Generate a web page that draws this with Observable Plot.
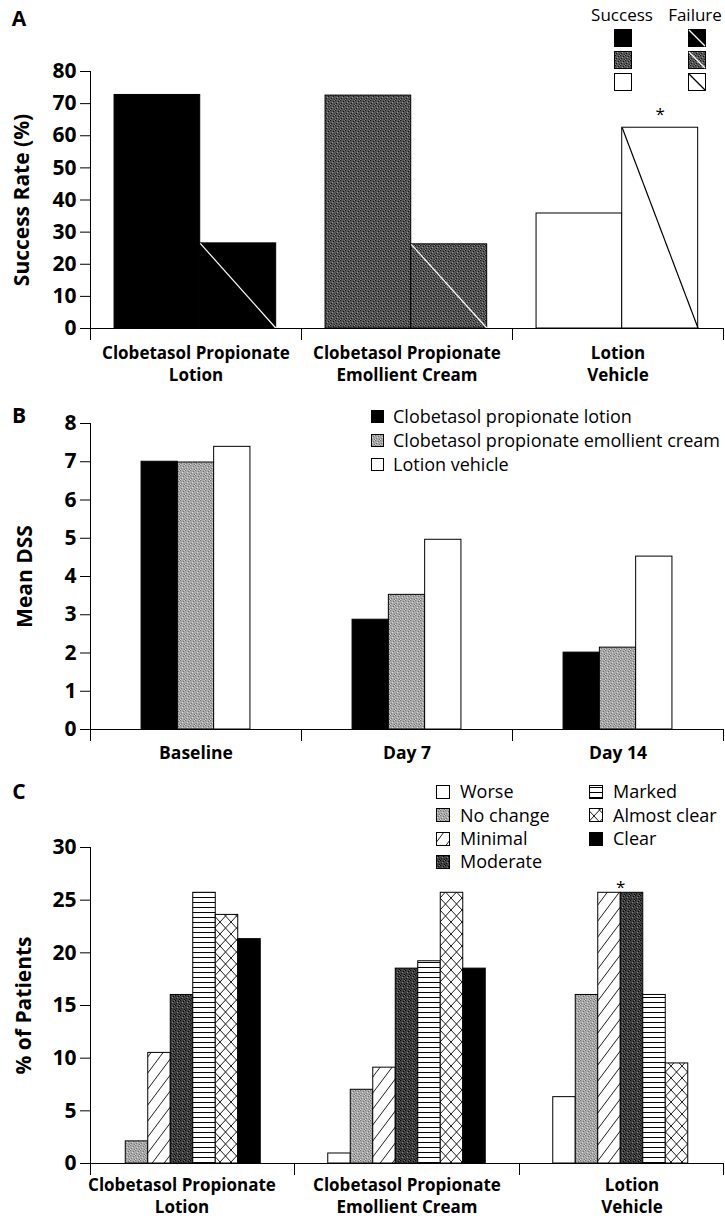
<!DOCTYPE html>
<html><head><meta charset="utf-8">
<script src="https://cdn.jsdelivr.net/npm/d3@7"></script>
<script src="https://cdn.jsdelivr.net/npm/@observablehq/plot@0.6"></script>
<style>
body{margin:0;background:#fff;}
#fig{position:relative;width:725px;height:1219px;overflow:hidden;font-family:"Open Sans",sans-serif;color:#000;}
</style></head><body>
<svg width="0" height="0" style="position:absolute">
<defs>
 <pattern id="dk" width="5" height="5" patternUnits="userSpaceOnUse">
  <rect width="5" height="5" fill="#555"/>
  <rect x="0" y="0" width="1" height="1" fill="#111"/>
  <rect x="3" y="1" width="1" height="1" fill="#111"/>
  <rect x="1" y="3" width="1" height="1" fill="#111"/>
  <rect x="4" y="4" width="1" height="1" fill="#222"/>
  <rect x="2" y="2" width="1" height="1" fill="#999"/>
  <rect x="4" y="0" width="1" height="1" fill="#888"/>
  <rect x="0" y="4" width="1" height="1" fill="#888"/>
 </pattern>
 <pattern id="mod" width="5" height="5" patternUnits="userSpaceOnUse">
  <rect width="5" height="5" fill="#404040"/>
  <rect x="0" y="0" width="1" height="1" fill="#000"/>
  <rect x="3" y="1" width="1" height="1" fill="#000"/>
  <rect x="1" y="3" width="1" height="1" fill="#111"/>
  <rect x="4" y="4" width="1" height="1" fill="#000"/>
  <rect x="2" y="2" width="1" height="1" fill="#888"/>
  <rect x="4" y="0" width="1" height="1" fill="#777"/>
 </pattern>
 <pattern id="lt" width="5" height="5" patternUnits="userSpaceOnUse">
  <rect width="5" height="5" fill="#a8a8a8"/>
  <rect x="0" y="0" width="1" height="1" fill="#707070"/>
  <rect x="3" y="1" width="1" height="1" fill="#707070"/>
  <rect x="1" y="3" width="1" height="1" fill="#777"/>
  <rect x="4" y="4" width="1" height="1" fill="#6a6a6a"/>
  <rect x="2" y="2" width="1" height="1" fill="#dcdcdc"/>
  <rect x="4" y="0" width="1" height="1" fill="#d0d0d0"/>
  <rect x="0" y="4" width="1" height="1" fill="#d8d8d8"/>
 </pattern>
 <pattern id="hatch" width="12" height="16" patternUnits="userSpaceOnUse">
  <rect width="12" height="16" fill="#fff"/>
  <path d="M0,16 L12,0 M-3,4 L3,-4 M9,20 L15,12" stroke="#000" stroke-width="0.9"/>
 </pattern>
 <pattern id="hl" width="5" height="5" patternUnits="userSpaceOnUse">
  <rect width="5" height="5" fill="#fff"/>
  <rect x="0" y="2" width="5" height="1" fill="#000"/>
 </pattern>
 <pattern id="cross" width="11" height="12" patternUnits="userSpaceOnUse">
  <rect width="11" height="12" fill="#fff"/>
  <path d="M0,0 L11,12 M11,0 L0,12" stroke="#000" stroke-width="0.9"/>
 </pattern>
</defs></svg>
<div id="fig"></div>
<script>
// ---------- DATA ----------
// Panel A
const groupsA = ["Clobetasol Propionate\nLotion", "Clobetasol Propionate\nEmollient Cream", "Lotion\nVehicle"];
const outcomesA = ["Success", "Failure"];
const successA = [72.7, 72.5, 35.8];
const failureA = [26.5, 26.2, 62.5];
const yTicksA = [0, 10, 20, 30, 40, 50, 60, 70, 80];
const starA = ["Lotion\nVehicle"];
const yLabelA = "Success Rate (%)";

// Panel B
const groupsB = ["Baseline", "Day 7", "Day 14"];
const seriesB = ["Clobetasol propionate lotion", "Clobetasol propionate emollient cream", "Lotion vehicle"];
const lotionB = [7.0, 2.87, 2.01];
const creamB = [6.98, 3.52, 2.14];
const vehicleB = [7.39, 4.96, 4.52];
const yTicksB = [0, 1, 2, 3, 4, 5, 6, 7, 8];
const yLabelB = "Mean DSS";

// Panel C
const groupsC = ["Clobetasol Propionate\nLotion", "Clobetasol Propionate\nEmollient Cream", "Lotion\nVehicle"];
const categoriesC = ["Worse", "No change", "Minimal", "Moderate", "Marked", "Almost clear", "Clear"];
const lotionC = [0, 2.1, 10.5, 16.0, 25.7, 23.6, 21.3];
const creamC = [0.95, 7.0, 9.1, 18.5, 19.2, 25.7, 18.5];
const vehicleC = [6.3, 16.0, 25.7, 25.7, 16.0, 9.5, 0];
const yTicksC = [0, 5, 10, 15, 20, 25, 30];
const starC = {group: "Lotion\nVehicle", between: ["Minimal", "Moderate"]};
const yLabelC = "% of Patients";

// ---------- STYLES ----------
const W = 725;
const FONT = "'Open Sans', sans-serif";
const fillA = ["#000", "url(#dk)", "#fff"];
const diagA = ["#fff", "#fff", "#000"];
const fillB = ["#000", "url(#lt)", "#fff"];
const fillC = ["#fff", "url(#lt)", "url(#hatch)", "url(#mod)", "url(#hl)", "url(#cross)", "#000"];
const baseStyle = {fontFamily: FONT, fontSize: "21px", fontWeight: "bold", color: "#000", background: "transparent", overflow: "visible"};

const fig = document.getElementById("fig");
function place(svg, top) {
  svg.style.position = "absolute"; svg.style.left = "0px"; svg.style.top = top + "px";
  fig.appendChild(svg);
}

// ---------- PANEL A ----------
const tableA = groupsA.map((g, i) => ({group: g, i, success: successA[i], failure: failureA[i]}));
const LEFT = -0.386, SPLIT = 0.02, RIGHT = 0.38;
const plotA = Plot.plot({
  width: W, height: 385, marginTop: 71, marginBottom: 57, marginLeft: 90, marginRight: 2,
  x: {type: "linear", domain: [-0.5, 2.5]},
  y: {domain: [0, 80]},
  color: {type: "identity"},
  style: baseStyle,
  marks: [
    Plot.rect(tableA, {x1: d => d.i + LEFT, x2: d => d.i + SPLIT, y1: 0, y2: "success", fill: d => fillA[d.i], stroke: "#000", strokeWidth: 1}),
    Plot.rect(tableA, {x1: d => d.i + SPLIT, x2: d => d.i + RIGHT, y1: 0, y2: "failure", fill: d => fillA[d.i], stroke: "#000", strokeWidth: 1}),
    Plot.link(tableA, {x1: d => d.i + SPLIT, y1: "failure", x2: d => d.i + RIGHT, y2: 0, stroke: d => diagA[d.i], strokeWidth: 1.2}),
    Plot.text(tableA.filter(d => starA.includes(d.group)), {x: d => d.i + (SPLIT + RIGHT) / 2, y: "failure", text: () => "*", dy: -13, fontSize: 17, fontWeight: "normal"}),
    Plot.ruleY([0]),
    Plot.ruleX([-0.5], {y1: 0, y2: 80}),
    Plot.axisY({ticks: yTicksA, tickSize: 10, tickPadding: 4, label: null}),
    Plot.axisX({ticks: [-0.5, 0.5, 1.5, 2.5], tickSize: 12, tickFormat: () => "", label: null}),
    Plot.axisX({ticks: [0, 1, 2], tickSize: 0, tickPadding: 15, tickFormat: i => groupsA[i], fontSize: 17, lineHeight: 1.28, label: null}),
    Plot.text([yLabelA], {frameAnchor: "left", textAnchor: "middle", rotate: -90, dx: -68, fontSize: 21, text: d => d})
  ]
});
place(plotA, 0);

// ---------- PANEL B ----------
const valuesB = [lotionB, creamB, vehicleB];
const tableB = groupsB.flatMap((g, i) => seriesB.map((s, j) => ({group: g, i, series: s, j, value: valuesB[j][i]})));
const BW = 0.172;
const plotB = Plot.plot({
  width: W, height: 405, marginTop: 38, marginBottom: 61, marginLeft: 90, marginRight: 2,
  x: {type: "linear", domain: [-0.5, 2.5]},
  y: {domain: [0, 8]},
  color: {type: "identity"},
  style: baseStyle,
  marks: [
    Plot.rect(tableB, {x1: d => d.i + (d.j - 1.5) * BW, x2: d => d.i + (d.j - 0.5) * BW, y1: 0, y2: "value", fill: d => fillB[d.j], stroke: "#000", strokeWidth: 1}),
    Plot.ruleY([0]),
    Plot.ruleX([-0.5], {y1: 0, y2: 8}),
    Plot.axisY({ticks: yTicksB, tickSize: 10, tickPadding: 4, label: null}),
    Plot.axisX({ticks: [-0.5, 0.5, 1.5, 2.5], tickSize: 12, tickFormat: () => "", label: null}),
    Plot.axisX({ticks: [0, 1, 2], tickSize: 0, tickPadding: 17, tickFormat: i => groupsB[i], fontSize: 17.5, label: null}),
    Plot.text([yLabelB], {frameAnchor: "left", textAnchor: "middle", rotate: -90, dx: -65, fontSize: 21, text: d => d})
  ]
});
place(plotB, 385);

// ---------- PANEL C ----------
const valuesC = [lotionC, creamC, vehicleC];
const tableC = groupsC.flatMap((g, i) => categoriesC.map((c, j) => ({group: g, i, cat: c, j, value: valuesC[i][j]})));
const CW = 0.1;
const xDomC = [1 - 316.5 / 225, 1 - 316.5 / 225 + 633 / 225];
const starRowsC = tableC.filter(d => d.group === starC.group && d.cat === starC.between[1]);
const plotC = Plot.plot({
  width: W, height: 429, marginTop: 57, marginBottom: 56, marginLeft: 90, marginRight: 2,
  x: {type: "linear", domain: xDomC},
  y: {domain: [0, 30]},
  color: {type: "identity"},
  style: baseStyle,
  marks: [
    Plot.rect(tableC.filter(d => d.value > 0), {x1: d => d.i + (d.j - 3.5) * CW, x2: d => d.i + (d.j - 2.5) * CW, y1: 0, y2: "value", fill: d => fillC[d.j], stroke: "#000", strokeWidth: 1}),
    Plot.text(starRowsC, {x: d => d.i + (d.j - 3.5) * CW, y: "value", text: () => "*", dy: -5, fontSize: 17, fontWeight: "normal"}),
    Plot.ruleY([0]),
    Plot.ruleX([xDomC[0]], {y1: 0, y2: 30}),
    Plot.axisY({ticks: yTicksC, tickSize: 10, tickPadding: 4, label: null}),
    Plot.axisX({ticks: [xDomC[0], 0.5, 1.5, xDomC[1]], tickSize: 12, tickFormat: () => "", label: null}),
    Plot.axisX({ticks: [0, 1, 2], tickSize: 0, tickPadding: 12, tickFormat: i => groupsC[i], fontSize: 17, lineHeight: 1.28, label: null}),
    Plot.text([yLabelC], {frameAnchor: "left", textAnchor: "middle", rotate: -90, dx: -66, fontSize: 21, text: d => d})
  ]
});
place(plotC, 790);

// ---------- LEGENDS & PANEL LETTERS (overlay) ----------
const NS = "http://www.w3.org/2000/svg";
const ov = document.createElementNS(NS, "svg");
ov.setAttribute("width", W); ov.setAttribute("height", 1219);
ov.style.position = "absolute"; ov.style.left = "0px"; ov.style.top = "0px";
ov.style.fontFamily = FONT;
fig.appendChild(ov);
function el(tag, attrs, text) {
  const e = document.createElementNS(NS, tag);
  for (const k in attrs) e.setAttribute(k, attrs[k]);
  if (text != null) e.textContent = text;
  ov.appendChild(e); return e;
}
// panel letters
[["A", 18], ["B", 415], ["C", 791]].forEach(([t, cy]) =>
  el("text", {x: 19, y: cy + 7.5, "text-anchor": "middle", "font-size": 21, "font-weight": "bold"}, t));

// legend A
el("text", {x: 622, y: 21, "text-anchor": "middle", "font-size": 17}, outcomesA[0]);
el("text", {x: 695, y: 21, "text-anchor": "middle", "font-size": 17}, outcomesA[1]);
groupsA.forEach((g, k) => {
  const top = 29.5 + 22 * k;
  el("rect", {x: 614.5, y: top, width: 17, height: 17, fill: fillA[k], stroke: "#000"});
  el("rect", {x: 688.5, y: top, width: 17, height: 17, fill: fillA[k], stroke: "#000"});
  el("line", {x1: 689, y1: top + 0.5, x2: 705, y2: top + 16.5, stroke: diagA[k], "stroke-width": 1.3});
});

// legend B
seriesB.forEach((s, k) => {
  const cy = 417 + 24 * k;
  el("rect", {x: 371.5, y: cy - 6.5, width: 12, height: 12, fill: fillB[k], stroke: "#000"});
  el("text", {x: 393, y: cy + 6.4, "font-size": 18}, s);
});

// legend C
categoriesC.forEach((c, k) => {
  const col = k < 4 ? 0 : 1, row = k < 4 ? k : k - 4;
  const cy = 792 + 23.3 * row;
  const sx = col ? 589.5 : 436.5, tx = col ? 613 : 460;
  el("rect", {x: sx, y: Math.round(cy - 7) + 0.5, width: 13, height: 13, fill: fillC[k], stroke: "#000"});
  el("text", {x: tx, y: cy + 6.4, "font-size": 18}, c);
});
</script>
</body></html>
